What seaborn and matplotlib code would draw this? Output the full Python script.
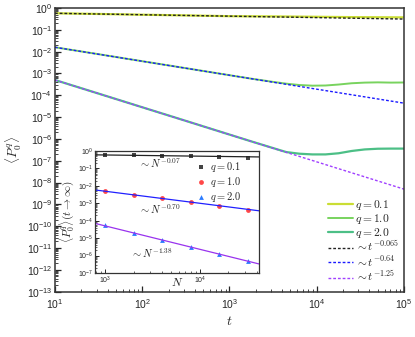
import numpy as np
import pandas as pd
import seaborn as sns
import matplotlib
matplotlib.use("Agg")
import matplotlib.pyplot as plt
from matplotlib.ticker import LogLocator, NullFormatter

# main panel: simulation curves
t_vals = [1e1, 10**1.5, 1e2, 10**2.5, 1e3, 10**3.25, 10**3.5, 10**3.65, 10**3.8,
          10**3.95, 10**4.1, 10**4.25, 10**4.4, 10**4.55, 10**4.7, 10**4.85, 1e5]
p_q01 = [0.57, 0.53, 0.49, 0.455, 0.42, 0.415, 0.41, 0.405, 0.40,
         0.395, 0.39, 0.385, 0.38, 0.378, 0.375, 0.372, 0.37]
p_q10 = [1.58e-2, 7.6e-3, 3.63e-3, 1.74e-3, 8.3e-4, 5.75e-4, 4.1e-4, 3.4e-4, 2.95e-4,
         2.75e-4, 2.8e-4, 3.1e-4, 3.55e-4, 3.8e-4, 3.9e-4, 3.8e-4, 3.85e-4]
p_q20 = [5.0e-4, 1.19e-4, 2.82e-5, 6.7e-6, 1.58e-6, 7.7e-7, 3.8e-7, 2.5e-7, 2.1e-7,
         1.95e-7, 1.95e-7, 2.2e-7, 2.8e-7, 3.3e-7, 3.55e-7, 3.6e-7, 3.6e-7]

# power-law guides (end points)
fit_t = [1e1, 1e5]
fit_0065 = [0.57, 0.31]
fit_064 = [1.58e-2, 4.35e-5]
fit_125 = [5.0e-4, 5.0e-9]

# inset: long-time value vs N
N_vals = [1000, 2000, 4000, 8000, 16000, 32000]
inf_q01 = [0.59, 0.56, 0.53, 0.49, 0.45, 0.42]
inf_q10 = [5.0e-3, 3.1e-3, 1.9e-3, 1.12e-3, 7.2e-4, 4.1e-4]
inf_q20 = [5.4e-5, 2.0e-5, 7.7e-6, 2.9e-6, 1.2e-6, 4.6e-7]
fitN = [780, 42000]
fitN_007 = [0.60, 0.455]
fitN_070 = [5.8e-3, 3.7e-4]
fitN_138 = [7.0e-5, 3.3e-7]

sns.set_theme(style="ticks")
plt.rcParams['font.family'] = ['Liberation Sans', 'DejaVu Sans']
plt.rcParams['mathtext.fontset'] = 'cm'
plt.rcParams['axes.edgecolor'] = '#333333'

fig = plt.figure(figsize=(4.15, 3.37), dpi=100)
ax = fig.add_axes([0.1325, 0.1344, 0.841, 0.842])

df = pd.DataFrame({'t': t_vals, 'q01': p_q01, 'q10': p_q10, 'q20': p_q20})
sns.lineplot(data=df, x='t', y='q01', color='#cadd34', lw=1.6, ax=ax, label='$q = 0.1$')
sns.lineplot(data=df, x='t', y='q10', color='#78d35e', lw=1.4, ax=ax, label='$q = 1.0$')
sns.lineplot(data=df, x='t', y='q20', color='#4cbf86', lw=1.6, ax=ax, label='$q = 2.0$')

dash = (0, (2, 1.4))
ax.plot(fit_t, fit_0065, color='#222222', lw=1.0, ls=dash, label=r'$\sim t^{-0.065}$')
ax.plot(fit_t, fit_064, color='#1a1aff', lw=1.0, ls=dash, label=r'$\sim t^{-0.64}$')
ax.plot(fit_t, fit_125, color='#a040ff', lw=1.0, ls=dash, label=r'$\sim t^{-1.25}$')

ax.set_xscale('log')
ax.set_yscale('log')
ax.set_xlim(1e1, 1e5)
ax.set_ylim(1e-13, 1e0)
ax.yaxis.set_major_locator(LogLocator(base=10, numticks=30))
ax.yaxis.set_minor_locator(LogLocator(base=10, subs=np.arange(2, 10), numticks=30))
ax.yaxis.set_minor_formatter(NullFormatter())
ax.xaxis.set_minor_locator(LogLocator(base=10, subs=np.arange(2, 10), numticks=30))
ax.tick_params(which='both', direction='in', labelsize=7.5, pad=2)
ax.tick_params(axis='x', which='major', pad=4)
ax.tick_params(which='major', length=4, width=0.9)
ax.tick_params(which='minor', length=2, width=0.6)
ax.set_xlabel('$t$', fontsize=10, labelpad=2)
ax.set_ylabel(r'$\langle P_0^q\rangle$', fontsize=9.5, labelpad=2)
for s in ax.spines.values():
    s.set_linewidth(1.1)

ax.legend(loc='lower left', bbox_to_anchor=(0.782, 0.025), frameon=False, fontsize=8.3,
          handlelength=2.2, handletextpad=0.15, labelspacing=0.0, borderaxespad=0,
          borderpad=0)

# inset
ins = fig.add_axes([0.229, 0.190, 0.395, 0.362])
ins.set_facecolor('white')
ins.plot(fitN, fitN_007, color='#222222', lw=0.9)
ins.plot(fitN, fitN_070, color='#2020ff', lw=0.9)
ins.plot(fitN, fitN_138, color='#9933ee', lw=0.9)
dfi = pd.DataFrame({'N': N_vals, 'a': inf_q01, 'b': inf_q10, 'c': inf_q20})
sns.scatterplot(data=dfi, x='N', y='a', marker='s', color='#444444', s=9, linewidth=0, ax=ins, label='$q = 0.1$')
sns.scatterplot(data=dfi, x='N', y='b', marker='o', color='#ff4747', s=12, linewidth=0, ax=ins, label='$q = 1.0$')
sns.scatterplot(data=dfi, x='N', y='c', marker='^', color='#2b7bff', s=12, linewidth=0, ax=ins, label='$q = 2.0$')
ins.set_xscale('log')
ins.set_yscale('log')
ins.set_xlim(780, 42000)
ins.set_ylim(1e-7, 1e0)
ins.yaxis.set_major_locator(LogLocator(base=10, numticks=20))
ins.yaxis.set_minor_locator(LogLocator(base=10, subs=np.arange(2, 10), numticks=20))
ins.yaxis.set_minor_formatter(NullFormatter())
ins.xaxis.set_minor_locator(LogLocator(base=10, subs=np.arange(2, 10), numticks=20))
ins.xaxis.set_minor_formatter(NullFormatter())
ins.tick_params(which='both', direction='in', labelsize=5, pad=1.5)
ins.tick_params(which='major', length=3, width=0.7)
ins.tick_params(which='minor', length=1.5, width=0.5)
ins.set_xlabel('$N$', fontsize=8.5, labelpad=-7)
ins.set_ylabel(r'$\langle P_0^q\rangle(t\rightarrow\infty)$', fontsize=8, labelpad=1)
for s in ins.spines.values():
    s.set_linewidth(0.9)
ins.legend(loc='upper left', bbox_to_anchor=(0.6, 0.93), frameon=False, fontsize=7.5,
           handletextpad=0.2, labelspacing=0.12, borderaxespad=0, borderpad=0,
           handlelength=1.4)
ins.text(0.27, 0.86, r'$\sim N^{-0.07}$', transform=ins.transAxes, fontsize=7.5)
ins.text(0.27, 0.48, r'$\sim N^{-0.70}$', transform=ins.transAxes, fontsize=7.5)
ins.text(0.22, 0.12, r'$\sim N^{-1.38}$', transform=ins.transAxes, fontsize=7.5)

fig.savefig('out.png', dpi=100)
